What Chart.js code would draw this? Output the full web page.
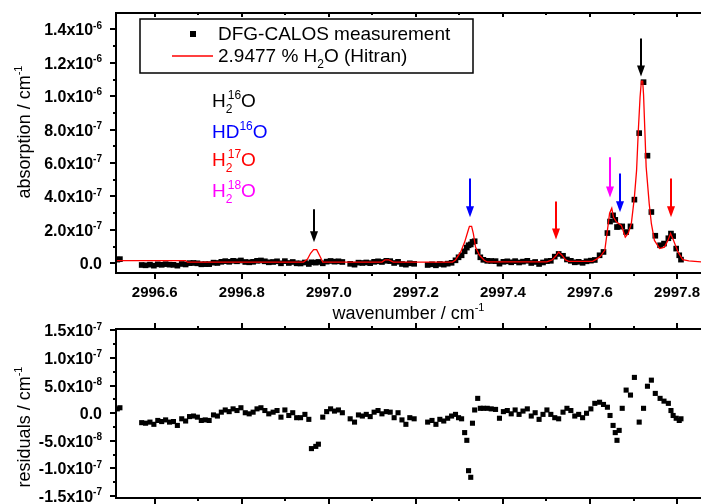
<!DOCTYPE html>
<html>
<head>
<meta charset="utf-8">
<script src="https://cdn.jsdelivr.net/npm/chart.js@4.4.1/dist/chart.umd.min.js"></script>
<style>
  html, body { margin: 0; padding: 0; background: #fff; }
  #wrap { position: relative; width: 705px; height: 504px; overflow: hidden; }
  canvas { position: absolute; left: 0; }
  #top { top: 0; }
  #bottom { top: 322px; }
</style>
</head>
<body>
<div id="wrap">
  <canvas id="top" width="705" height="322"></canvas>
  <canvas id="bottom" width="705" height="182"></canvas>
</div>
<script>
// measured points: wavenumber (cm-1), absorption and residual in units of 1e-8 cm-1
const wavenumber = [
  2996.514, 2996.520,
  2996.570, 2996.579, 2996.589, 2996.598, 2996.607, 2996.616, 2996.625, 2996.634, 2996.643, 2996.652,
  2996.662, 2996.671, 2996.680, 2996.689, 2996.698, 2996.707, 2996.716, 2996.725, 2996.735, 2996.744,
  2996.753, 2996.762, 2996.771, 2996.780, 2996.789, 2996.798, 2996.808, 2996.817, 2996.826, 2996.835,
  2996.844, 2996.853, 2996.862, 2996.872, 2996.881, 2996.890, 2996.899, 2996.908, 2996.917, 2996.926,
  2996.935, 2996.945, 2996.954, 2996.960, 2996.970, 2996.976, 2996.986, 2996.995, 2997.004, 2997.013,
  2997.022, 2997.031,
  2997.049, 2997.059, 2997.068, 2997.077, 2997.086, 2997.095, 2997.104, 2997.113, 2997.122, 2997.132,
  2997.141, 2997.150, 2997.159, 2997.168, 2997.177, 2997.186, 2997.196,
  2997.227, 2997.237, 2997.246, 2997.255, 2997.264, 2997.273, 2997.282, 2997.291, 2997.298, 2997.305,
  2997.312, 2997.317, 2997.321, 2997.326, 2997.330, 2997.335, 2997.342, 2997.348, 2997.355, 2997.364,
  2997.373, 2997.383, 2997.392, 2997.401, 2997.410, 2997.419, 2997.428, 2997.437, 2997.446, 2997.456,
  2997.465, 2997.474, 2997.483, 2997.492, 2997.501, 2997.510, 2997.519, 2997.528, 2997.538, 2997.547,
  2997.556, 2997.565, 2997.574, 2997.583, 2997.592, 2997.602, 2997.611,
  2997.622, 2997.631, 2997.640, 2997.646, 2997.653, 2997.658, 2997.662, 2997.667, 2997.674, 2997.683,
  2997.693, 2997.702, 2997.713, 2997.723, 2997.732, 2997.741, 2997.750, 2997.761, 2997.770, 2997.780,
  2997.786, 2997.791, 2997.798, 2997.805, 2997.809
];
const measured = [
  2.2, 2.5,
  -1.0, -1.2, -0.8, -1.4, -0.6, -0.9, -0.5, -0.8, -0.9, -1.4,
  -0.4, -0.7, 0.1, 0.2, 0.0, -0.6, -0.5, -0.5, 0.4, 0.2,
  0.9, 1.3, 0.9, 1.5, 1.2, 1.7, 0.8, 0.6, 0.9, 1.5,
  1.7, 1.2, 0.6, 0.8, 1.2, 0.0, 1.3, 0.2, 0.8, 0.0,
  -0.1, 0.5, -0.4, 0.6, 0.4, 0.8, 0.0, 1.0, 1.4, 1.0,
  1.2, 0.8,
  -0.3, -0.8, 0.4, 0.2, 0.5, 0.1, 0.9, 1.2, 0.8, 1.5,
  1.3, 0.2, 0.9, -0.4, -0.8, 0.0, -0.3,
  -1.0, -0.6, -1.2, -0.4, -0.8, -0.2, 0.3, 1.8, 3.6, 4.8,
  7.2, 9.4, 10.8, 11.3, 12.8, 13.2, 7.0, 3.6, 2.1, 1.5,
  1.4, 1.3, -0.2, 0.9, 1.2, 0.6, 1.3, 0.5, 1.0, 1.5,
  0.2, 0.8, -0.4, 0.5, 1.3, 1.5, 4.0, 5.6, 4.5, 2.3,
  1.5, 0.6, 0.9, 0.3, 1.2, 1.6, 2.0,
  4.8, 6.8, 18.1, 25.0, 28.7, 26.0, 21.7, 22.0, 22.1, 18.7,
  22.1, 38.1, 77.9, 108.4, 64.4, 30.7, 16.5, 10.8, 11.8, 15.0,
  17.8, 16.3, 8.8, 4.8, 2.2
];
const residual = [
  0.8, 1.0,
  -1.7, -1.8, -1.6, -2.0, -1.3, -1.5, -1.2, -1.6, -1.5, -2.2,
  -1.0, -1.4, -0.6, -0.5, -0.7, -1.3, -1.2, -1.3, -0.3, -0.5,
  0.2, 0.6, 0.3, 0.8, 0.5, 1.0, 0.1, -0.1, 0.2, 0.8,
  1.0, 0.5, -0.1, 0.2, 0.5, -0.7, 0.6, -0.4, 0.1, -0.8,
  -0.8, -0.2, -1.1, -6.4, -6.0, -5.6, -0.7, 0.3, 0.8, 0.4,
  0.6, 0.1,
  -1.0, -1.6, -0.3, -0.5, -0.2, -0.6, 0.2, 0.5, -0.1, 0.3,
  0.2, -0.8, 0.1, -1.2, -2.0, -0.8, -1.0,
  -1.6, -1.3, -2.0, -1.1, -1.4, -0.9, -0.5, -0.2, -0.8, -1.0,
  -3.5, -4.9, -10.4, -11.6, -1.8, 0.6, 2.7, 0.9, 0.9, 0.9,
  0.8, 0.7, -0.9, 0.3, 0.5, -0.1, 0.6, -0.2, 0.4, 0.8,
  -0.5, 0.1, -1.1, -0.2, 0.6, -0.2, -0.8, -1.0, 0.2, 0.9,
  0.5, -0.5, -0.2, -0.8, 0.0, 0.8, 1.8,
  2.0, 1.6, 1.1, -0.4, -2.2, -3.5, -4.9, -3.1, 0.9, 4.2,
  3.3, 6.5, -1.6, 0.9, 4.9, 6.0, 3.6, 2.7, 2.2, 1.8,
  0.5, -0.4, -0.9, -1.3, -1.0
];

// HITRAN simulation (2.9477 % H2O), units of 1e-8 cm-1
const hitranWn = [
  2996.511, 2996.671, 2996.675, 2996.942, 2996.951, 2996.958, 2996.965, 2996.972, 2996.979, 2996.986,
  2997.122, 2997.129, 2997.138, 2997.148, 2997.284, 2997.291, 2997.303, 2997.312, 2997.319, 2997.323,
  2997.328, 2997.332, 2997.337, 2997.346, 2997.357, 2997.364, 2997.501, 2997.513, 2997.522, 2997.528,
  2997.535, 2997.544, 2997.551, 2997.606, 2997.615, 2997.624, 2997.634, 2997.640, 2997.645, 2997.650,
  2997.654, 2997.661, 2997.672, 2997.681, 2997.688, 2997.695, 2997.702, 2997.707, 2997.711, 2997.715,
  2997.718, 2997.721, 2997.723, 2997.726, 2997.729, 2997.736, 2997.741, 2997.748, 2997.760, 2997.771,
  2997.779, 2997.785, 2997.792, 2997.802, 2997.813, 2997.827, 2997.855
];
const hitranAbs = [
  1.6, 1.6, 0.7, 0.7, 2.5, 6.0, 8.2, 8.2, 4.5, 0.7,
  0.7, 2.0, 2.0, 0.7, 0.7, 2.0, 6.8, 12.7, 18.7, 22.1,
  22.1, 17.8, 9.7, 4.8, 1.8, 0.8, 0.8, 2.0, 4.5, 6.8,
  5.0, 2.0, 1.2, 1.2, 2.5, 4.2, 7.8, 19.7, 30.0, 33.0,
  27.5, 24.7, 22.7, 15.7, 18.0, 23.9, 39.6, 55.6, 79.5, 99.4,
  109.0, 109.0, 101.0, 79.5, 57.6, 35.7, 23.7, 13.7, 8.8, 9.7,
  13.7, 17.8, 13.7, 6.8, 2.2, 1.4, 0.8
];

// line assignment arrows: position, start and tip (1e-8 cm-1)
const arrowWn = [2996.967, 2997.325, 2997.523, 2997.646, 2997.669, 2997.718, 2997.786];
const arrowFrom = [32.3, 50.8, 37.0, 63.4, 53.8, 134.5, 50.8];
const arrowTo = [12.6, 27.5, 14.3, 39.4, 30.5, 111.8, 27.5];
const arrowColor = ['#000000', '#0000ff', '#ff0000', '#ff00ff', '#0000ff', '#000000', '#ff0000'];

// axes
const xMin = 2996.511, xMax = 2997.855;
const xTicks = [2996.6, 2996.8, 2997.0, 2997.2, 2997.4, 2997.6, 2997.8];
const xMinorTicks = [2996.7, 2996.9, 2997.1, 2997.3, 2997.5, 2997.7];
const xTickLabels = ['2996.6', '2996.8', '2997.0', '2997.2', '2997.4', '2997.6', '2997.8'];
const absTicks = [0, 20, 40, 60, 80, 100, 120, 140];
const absMinorTicks = [10, 30, 50, 70, 90, 110, 130];
const absTickLabels = [['0.0', ''], ['2.0x10', '-7'], ['4.0x10', '-7'], ['6.0x10', '-7'], ['8.0x10', '-7'],
  ['1.0x10', '-6'], ['1.2x10', '-6'], ['1.4x10', '-6']];
const resTicks = [-15, -10, -5, 0, 5, 10, 15];
const resMinorTicks = [-12.5, -7.5, -2.5, 2.5, 7.5, 12.5];
const resTickLabels = [['-1.5x10', '-7'], ['-1.0x10', '-7'], ['-5.0x10', '-8'], ['0.0', ''],
  ['5.0x10', '-8'], ['1.0x10', '-7'], ['1.5x10', '-7']];

const FONT = '"Liberation Sans", Arial, Helvetica, sans-serif';

function layoutRich(ctx, parts, size, small, weight) {
  let x = 0, prev = null;
  const items = [];
  for (const [t, mode] of parts) {
    const sz = mode ? small : size;
    ctx.font = weight + ' ' + sz + 'px ' + FONT;
    const w = ctx.measureText(t).width;
    let sx = x;
    if (mode === 'sup' && prev && prev.mode === 'sub') sx = prev.x + 2;
    const it = { t, mode, x: sx, w, sz };
    items.push(it);
    x = Math.max(x, sx + w);
    prev = it;
  }
  return { items, width: x };
}

function drawRich(ctx, parts, x, y, opt) {
  const size = opt.size;
  const small = opt.small || Math.round(size * 0.62);
  const weight = opt.weight || 'normal';
  const lay = layoutRich(ctx, parts, size, small, weight);
  let x0 = x;
  if (opt.align === 'right') x0 = x - lay.width;
  else if (opt.align === 'center') x0 = x - lay.width / 2;
  ctx.fillStyle = opt.color || '#000';
  ctx.textAlign = 'left';
  ctx.textBaseline = 'alphabetic';
  for (const it of lay.items) {
    ctx.font = weight + ' ' + it.sz + 'px ' + FONT;
    let dy = 0;
    if (it.mode === 'sub') dy = size * 0.32;
    if (it.mode === 'sup') dy = -size * 0.42;
    ctx.fillText(it.t, x0 + it.x, y + dy);
  }
}

function drawArrow(ctx, x, y0, y1, color) {
  const head = 11, hw = 4;
  ctx.strokeStyle = color;
  ctx.fillStyle = color;
  ctx.lineWidth = 2;
  ctx.beginPath();
  ctx.moveTo(x, y0);
  ctx.lineTo(x, y1 - head + 1);
  ctx.stroke();
  ctx.beginPath();
  ctx.moveTo(x - hw, y1 - head);
  ctx.lineTo(x + hw, y1 - head);
  ctx.lineTo(x, y1);
  ctx.closePath();
  ctx.fill();
}

// axes frame, ticks and tick labels drawn from the chart's scales
function makeFrame(cfg) {
  return {
    id: 'frame_' + cfg.name,
    afterDraw(chart) {
      const ctx = chart.ctx, a = chart.chartArea;
      const xs = chart.scales.x, ys = chart.scales.y;
      ctx.save();
      ctx.strokeStyle = '#000';
      ctx.lineWidth = 2;
      ctx.beginPath();
      ctx.moveTo(a.left, a.top - 1); ctx.lineTo(a.left, a.bottom + 1);
      ctx.moveTo(a.left - 1, a.top); ctx.lineTo(a.right, a.top);
      ctx.moveTo(a.left - 1, a.bottom); ctx.lineTo(a.right, a.bottom);
      for (const v of cfg.yMajor) {
        const p = Math.round(ys.getPixelForValue(v));
        ctx.moveTo(a.left, p); ctx.lineTo(a.left - 6, p);
      }
      for (const v of cfg.yMinor) {
        const p = Math.round(ys.getPixelForValue(v));
        ctx.moveTo(a.left, p); ctx.lineTo(a.left - 3, p);
      }
      for (const s of cfg.xSides) {
        const base = s.edge === 'top' ? a.top : a.bottom;
        for (const v of xTicks) {
          const p = Math.round(xs.getPixelForValue(v));
          ctx.moveTo(p, base); ctx.lineTo(p, base + s.dir * s.major);
        }
        for (const v of xMinorTicks) {
          const p = Math.round(xs.getPixelForValue(v));
          ctx.moveTo(p, base); ctx.lineTo(p, base + s.dir * s.minor);
        }
      }
      ctx.stroke();

      cfg.yMajor.forEach((v, i) => {
        const p = ys.getPixelForValue(v);
        const [m, e] = cfg.yLabels[i];
        const parts = e ? [[m, ''], [e, 'sup']] : [[m, '']];
        drawRich(ctx, parts, 102, p + 6, { size: 16, small: 10, weight: 'bold', align: 'right' });
      });
      if (cfg.xLabels) {
        xTicks.forEach((v, i) => {
          const p = xs.getPixelForValue(v);
          drawRich(ctx, [[xTickLabels[i], '']], p, 297, { size: 15, weight: 'bold', align: 'center' });
        });
      }
      // axis titles
      if (cfg.xTitle) {
        drawRich(ctx, [['wavenumber / cm', ''], ['-1', 'sup']], (a.left + a.right) / 2, 319, { size: 18, small: 11, align: 'center' });
      }
      ctx.save();
      ctx.translate(30, cfg.yTitleY);
      ctx.rotate(-Math.PI / 2);
      drawRich(ctx, [[cfg.yTitle, ''], ['-1', 'sup']], 0, 0, { size: 18, small: 11, align: 'center' });
      ctx.restore();

      if (cfg.extra) cfg.extra(chart);
      ctx.restore();
    }
  };
}

function topExtras(chart) {
  const ctx = chart.ctx;
  const xs = chart.scales.x, ys = chart.scales.y;
  // arrows
  arrowWn.forEach((w, i) => {
    const px = Math.round(xs.getPixelForValue(w));
    drawArrow(ctx, px, ys.getPixelForValue(arrowFrom[i]), ys.getPixelForValue(arrowTo[i]), arrowColor[i]);
  });
  // isotopologue key
  drawRich(ctx, [['H', ''], ['2', 'sub'], ['16', 'sup'], ['O', '']], 212, 107, { size: 19, small: 12, color: '#000000' });
  drawRich(ctx, [['HD', ''], ['16', 'sup'], ['O', '']], 212, 138, { size: 19, small: 12, color: '#0000ff' });
  drawRich(ctx, [['H', ''], ['2', 'sub'], ['17', 'sup'], ['O', '']], 212, 166, { size: 19, small: 12, color: '#ff0000' });
  drawRich(ctx, [['H', ''], ['2', 'sub'], ['18', 'sup'], ['O', '']], 212, 197, { size: 19, small: 12, color: '#ff00ff' });
  // legend box
  ctx.fillStyle = '#fff';
  ctx.fillRect(140, 19, 333, 54);
  ctx.strokeStyle = '#000';
  ctx.lineWidth = 1.5;
  ctx.strokeRect(140, 19, 333, 54);
  ctx.fillStyle = '#000';
  ctx.fillRect(190, 31, 6, 6);
  ctx.strokeStyle = '#ff0000';
  ctx.lineWidth = 1.3;
  ctx.beginPath();
  ctx.moveTo(172, 56); ctx.lineTo(213, 56);
  ctx.stroke();
  drawRich(ctx, [['DFG-CALOS measurement', '']], 218, 40, { size: 19 });
  drawRich(ctx, [['2.9477 % H', ''], ['2', 'sub'], ['O (Hitran)', '']], 218, 62, { size: 19, small: 12 });
}

const common = {
  responsive: false,
  animation: false,
  devicePixelRatio: 1,
  events: [],
  plugins: { legend: { display: false }, tooltip: { enabled: false } }
};

new Chart(document.getElementById('top'), {
  type: 'scatter',
  data: {
    datasets: [
      {
        label: '2.9477 % H2O (Hitran)',
        data: hitranWn.map((w, i) => ({ x: w, y: hitranAbs[i] })),
        showLine: true,
        borderColor: '#ff0000',
        borderWidth: 1.3,
        pointRadius: 0,
        tension: 0
      },
      {
        label: 'DFG-CALOS measurement',
        data: wavenumber.map((w, i) => ({ x: w, y: measured[i] })),
        pointStyle: 'rect',
        pointRadius: 4,
        pointBorderWidth: 0,
        backgroundColor: '#000'
      }
    ]
  },
  options: {
    ...common,
    layout: { padding: { top: 13, left: 0, right: 0, bottom: 0 } },
    scales: {
      x: { type: 'linear', min: xMin, max: xMax, ticks: { display: false }, grid: { display: false },
        border: { display: false }, afterFit(s) { s.height = 49; } },
      y: { type: 'linear', min: -5.8, max: 149.8, ticks: { display: false }, grid: { display: false },
        border: { display: false }, afterFit(s) { s.width = 116; } }
    }
  },
  plugins: [makeFrame({
    name: 'top', yMajor: absTicks, yMinor: absMinorTicks, yLabels: absTickLabels,
    xSides: [{ edge: 'bottom', dir: 1, major: 6, minor: 3 }, { edge: 'top', dir: 1, major: 4, minor: 2 }],
    xLabels: true, xTitle: true, yTitle: 'absorption / cm', yTitleY: 132, extra: topExtras
  })]
});

new Chart(document.getElementById('bottom'), {
  type: 'scatter',
  data: {
    datasets: [{
      label: 'residuals',
      data: wavenumber.map((w, i) => ({ x: w, y: residual[i] })),
      pointStyle: 'rect',
      pointRadius: 3.6,
      pointBorderWidth: 0,
      backgroundColor: '#000'
    }]
  },
  options: {
    ...common,
    layout: { padding: { top: 7, left: 0, right: 0, bottom: 0 } },
    scales: {
      x: { type: 'linear', min: xMin, max: xMax, ticks: { display: false }, grid: { display: false },
        border: { display: false }, afterFit(s) { s.height = 6; } },
      y: { type: 'linear', min: -15.35, max: 15.27, ticks: { display: false }, grid: { display: false },
        border: { display: false }, afterFit(s) { s.width = 116; } }
    }
  },
  plugins: [makeFrame({
    name: 'bottom', yMajor: resTicks, yMinor: resMinorTicks, yLabels: resTickLabels,
    xSides: [{ edge: 'top', dir: -1, major: 6, minor: 3 }, { edge: 'bottom', dir: 1, major: 6, minor: 3 }],
    xLabels: false, xTitle: false, yTitle: 'residuals / cm', yTitleY: 105
  })]
});
</script>
</body>
</html>
